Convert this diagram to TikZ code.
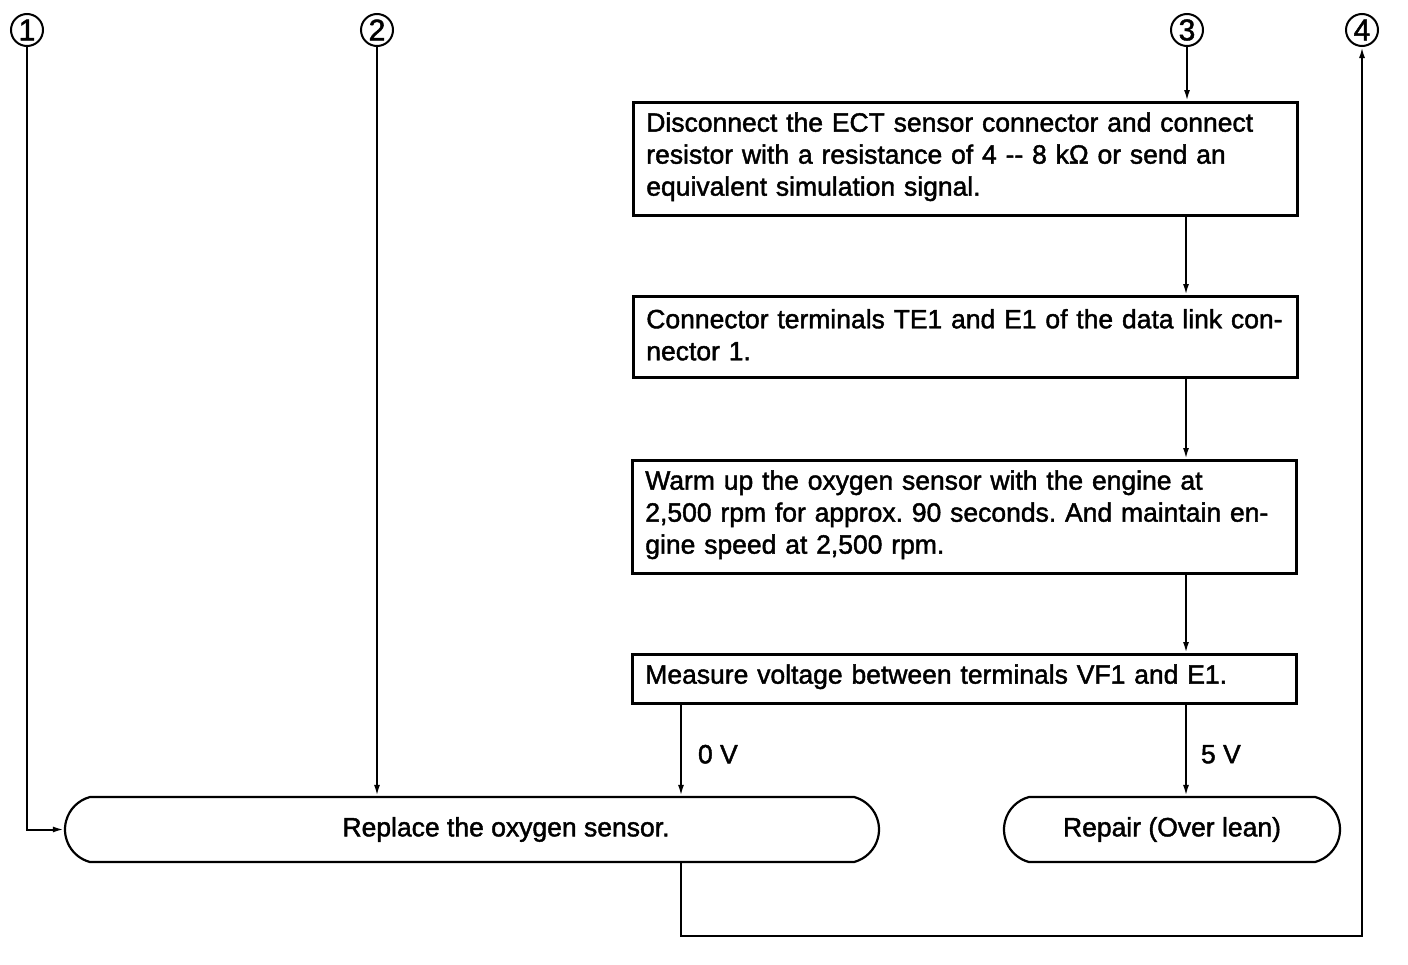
\documentclass[tikz,border=0pt]{standalone}
\usepackage{fontspec}
\setmainfont{Liberation Sans}[BoldFont={Liberation Sans},BoldFeatures={FakeBold=1.6}]
\usetikzlibrary{arrows.meta,shapes.misc}
\frenchspacing
\begin{document}
\begin{tikzpicture}[x=1pt,y=-1pt,
 every node/.style={font=\fontsize{26.5}{32}\selectfont\bfseries},
 stepbox/.style={draw,line width=2.6pt,anchor=north west,align=left,inner xsep=13pt,inner ysep=0pt,text width=638pt},
 endbox/.style={draw,line width=2.2pt,rounded rectangle,rounded rectangle arc length=150,minimum height=65pt,inner sep=0pt},
 num/.style={draw,circle,line width=2pt,minimum size=32pt,inner sep=0pt,font=\fontsize{30}{30}\selectfont\bfseries},
 conn/.style={line width=2pt},
 arr/.style={conn,-{Latex[length=11pt,width=6pt]}},
 lbl/.style={anchor=west,inner sep=0pt},
]
\useasboundingbox (0,0) rectangle (1408,964);
\node[num] (c1) at (27,30) {1};
\node[num] (c2) at (377,30) {2};
\node[num] (c3) at (1187,30) {3};
\node[num] (c4) at (1362,30) {4};

\node[stepbox,minimum height=113pt] (b1) at (632,101) {Disconnect the ECT sensor connector and connect\\resistor with a resistance of 4 -{}- 8 kΩ or send an\\equivalent simulation signal.\vspace*{4pt}};
\node[stepbox,minimum height=81pt] (b2) at (632,295) {Connector terminals TE1 and E1 of the data link con-\\nector 1.\vspace*{4pt}};
\node[stepbox,minimum height=113pt] (b3) at (631,459) {Warm up the oxygen sensor with the engine at\\2,500 rpm for approx. 90 seconds. And maintain en-\\gine speed at 2,500 rpm.\vspace*{4pt}};
\node[stepbox,minimum height=49pt] (b4) at (631,653) {Measure voltage between terminals VF1 and E1.\vspace*{4pt}};

\node[endbox,minimum width=814pt] (rep) at (472,829.5) {\hspace*{68pt}Replace the oxygen sensor.};
\node[endbox,minimum width=336pt] (rpr) at (1172,829.5) {Repair (Over lean)};

\coordinate (vx) at (1186,0);
\coordinate (ox) at (681,0);
\coordinate (bl) at (681,936);

\draw[arr] (c1.south) -- (c1.south |- rep.west) -- (rep.west);
\draw[arr] (c2.south) -- (c2.south |- rep.north);
\draw[arr] (c3.south) -- (c3.south |- b1.north);
\draw[arr] (vx |- b1.south) -- (vx |- b2.north);
\draw[arr] (vx |- b2.south) -- (vx |- b3.north);
\draw[arr] (vx |- b3.south) -- (vx |- b4.north);
\draw[arr] (ox |- b4.south) -- node[lbl,xshift=16pt,yshift=-4pt] {0 V} (ox |- rep.north);
\draw[arr] (vx |- b4.south) -- node[lbl,xshift=14pt,yshift=-4pt] {5 V} (vx |- rpr.north);
\draw[arr] (ox |- rep.south) -- (bl) -- (bl -| c4.south) -- (c4.south);
\end{tikzpicture}
\end{document}
